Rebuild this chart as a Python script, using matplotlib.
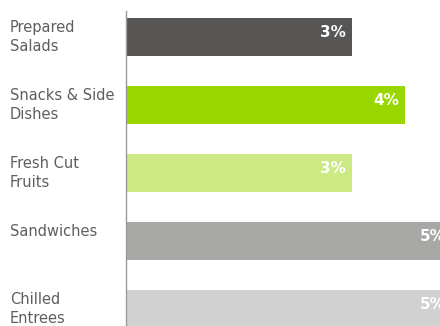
import matplotlib
matplotlib.use("Agg")
import matplotlib.pyplot as plt

categories = ["Prepared\nSalads", "Snacks & Side\nDishes", "Fresh Cut\nFruits", "Sandwiches", "Chilled\nEntrees"]
values = [3.47, 4.28, 3.47, 5.0, 5.0]
value_labels = ["3%", "4%", "3%", "5%", "5%"]
colors = ["#575654", "#99d600", "#cde984", "#a8a8a7", "#d1d1d1"]

fig = plt.figure(figsize=(4.4, 3.26), dpi=100)
ax = fig.add_axes([126/440, 0, 314/440, 315/326])
ys = list(range(len(categories)))
bar_h = 38/68
ax.barh(ys, values, height=bar_h, color=colors, zorder=2)
ax.set_xlim(0, 314/65.2)
ax.set_ylim(4.25, -0.382)

for y, v, lab in zip(ys, values, value_labels):
    ax.annotate(lab, xy=(v, y), xytext=(-6, 0), textcoords="offset pixels",
                ha="right", va="baseline", color="white", fontweight="bold", fontsize=11,
                annotation_clip=False)

for y, cat in zip(ys, categories):
    ax.annotate(cat, xy=(0, y - bar_h/2), xycoords=("axes fraction", "data"),
                xytext=(-116, -2), textcoords="offset pixels",
                ha="left", va="top", color="#5e5e5e", fontsize=10.5, linespacing=1.3,
                annotation_clip=False)

for s in ["top", "right", "bottom"]:
    ax.spines[s].set_visible(False)
ax.spines["left"].set_color("#9a9a9a")
ax.spines["left"].set_linewidth(1)
ax.set_xticks([])
ax.set_yticks([])
fig.savefig("out.png", dpi=100)
